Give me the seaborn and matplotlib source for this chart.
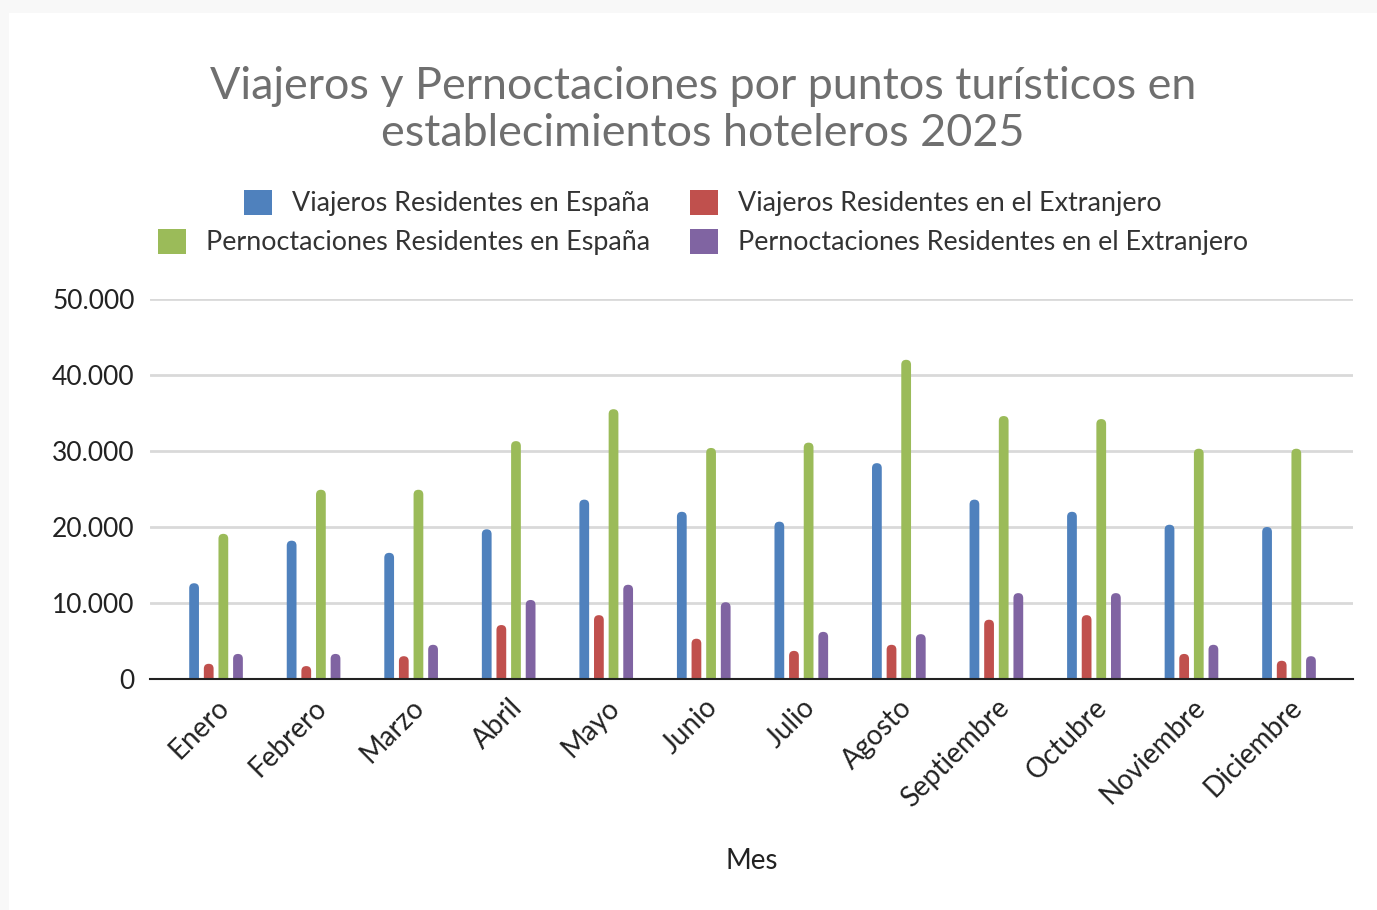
import matplotlib
matplotlib.use("Agg")
import matplotlib.pyplot as plt
import matplotlib.ticker as mticker
from matplotlib.patches import FancyBboxPatch, Rectangle, Patch
import seaborn as sns
import pandas as pd

meses = ["Enero", "Febrero", "Marzo", "Abril", "Mayo", "Junio", "Julio",
         "Agosto", "Septiembre", "Octubre", "Noviembre", "Diciembre"]
series = ["Viajeros Residentes en España",
          "Viajeros Residentes en el Extranjero",
          "Pernoctaciones Residentes en España",
          "Pernoctaciones Residentes en el Extranjero"]
viajeros_esp = [12600, 18200, 16600, 19700, 23600, 22000, 20700, 28400, 23600, 22000, 20300, 20000]
viajeros_ext = [2000, 1700, 3000, 7100, 8400, 5300, 3700, 4500, 7800, 8400, 3300, 2400]
pernoct_esp = [19100, 24900, 24900, 31300, 35500, 30400, 31100, 42000, 34600, 34200, 30300, 30300]
pernoct_ext = [3300, 3300, 4500, 10400, 12400, 10100, 6200, 5900, 11300, 11300, 4500, 3000]
colores = ["#4F81BD", "#C0504D", "#9BBB59", "#8064A2"]

valores = [viajeros_esp, viajeros_ext, pernoct_esp, pernoct_ext]
df = pd.DataFrame({
    "Mes": [m for _ in series for m in meses],
    "Serie": [s for s in series for _ in meses],
    "Valor": [v for vals in valores for v in vals],
})

sns.set_theme(style="white")
FONT = ["Lato", "DejaVu Sans"]
plt.rcParams["font.family"] = FONT

W, H = 1377, 910
fig = plt.figure(figsize=(W / 100, H / 100), dpi=100, facecolor="#f8f8f8")
bg = Rectangle((9 / W, 0), 1 - 9 / W, 1 - 13 / H, transform=fig.transFigure,
               facecolor="white", edgecolor="none", zorder=-10)
fig.add_artist(bg)

ax = fig.add_axes([150 / W, 1 - 679 / H, (1353 - 150) / W, (679 - 299) / H])
ax.set_facecolor("none")
ax.set_zorder(1)

sns.barplot(data=df, x="Mes", y="Valor", hue="Serie", order=meses, hue_order=series,
            palette=colores, width=0.6, gap=1 / 3, ax=ax, legend=False, saturation=1)

ax.set_xlim(-0.677, 11.656)
ax.set_ylim(0, 50000)

# rounded bar tops
xpix = ax.get_window_extent().width / (ax.get_xlim()[1] - ax.get_xlim()[0])
ypix = ax.get_window_extent().height / (ax.get_ylim()[1] - ax.get_ylim()[0])
for p in list(ax.patches):
    x0, w, h = p.get_x(), p.get_width(), p.get_height()
    col = p.get_facecolor()
    p.remove()
    r = w / 2
    ry = r * xpix / ypix
    fb = FancyBboxPatch((x0, -ry * 1.5), w, h + ry * 1.5,
                        boxstyle=f"round,pad=0,rounding_size={r}",
                        mutation_aspect=ry / r, facecolor=col, edgecolor="none", zorder=3)
    ax.add_patch(fb)

ax.yaxis.set_major_locator(mticker.MultipleLocator(10000))
ax.yaxis.set_major_formatter(mticker.FuncFormatter(lambda v, _: f"{int(v):,}".replace(",", ".")))
ax.grid(axis="y", color="#d9d9d9", linewidth=2, zorder=0)
ax.set_axisbelow(True)
for s in ["top", "right", "left"]:
    ax.spines[s].set_visible(False)
ax.spines["bottom"].set_color("#222222")
ax.spines["bottom"].set_linewidth(1.5)
ax.spines["bottom"].set_zorder(4)
ax.tick_params(axis="y", length=0, pad=11, labelsize=19, labelcolor="#222222")
ax.tick_params(axis="x", length=0, pad=11, labelsize=20, labelcolor="#222222")
for lab in ax.get_xticklabels():
    lab.set_rotation(45)
    lab.set_ha("right")
    lab.set_va("top")
    lab.set_rotation_mode("anchor")
    lab.set_fontfamily(FONT)
for lab in ax.get_yticklabels():
    lab.set_fontfamily(FONT)

ax.set_ylabel("")
ax.set_xlabel("")
fig.text(752 / W, 1 - 861 / H, "Mes", ha="center", va="center", fontsize=20,
         color="#222222", family=FONT)

fig.text(703 / W, 1 - 110 / H,
         "Viajeros y Pernoctaciones por puntos turísticos en\nestablecimientos hoteleros 2025",
         ha="center", va="center", fontsize=32.3, color="#6f6f6f", family=FONT,
         linespacing=1.2)

handles = [Patch(facecolor=c, edgecolor="none") for c in colores]
for row, (i, j, yy) in enumerate([(0, 1, 203), (2, 3, 242)]):
    leg = fig.legend([handles[i], handles[j]], [series[i], series[j]], ncol=2,
                     loc="center", bbox_to_anchor=(703 / W, 1 - yy / H), frameon=False,
                     handlelength=1.04, handleheight=1.04, handletextpad=0.74,
                     columnspacing=1.49, borderpad=0, prop={"family": FONT, "size": 19.4})
    for t in leg.get_texts():
        t.set_color("#333333")

fig.savefig("out.png", dpi=100, facecolor=fig.get_facecolor())
